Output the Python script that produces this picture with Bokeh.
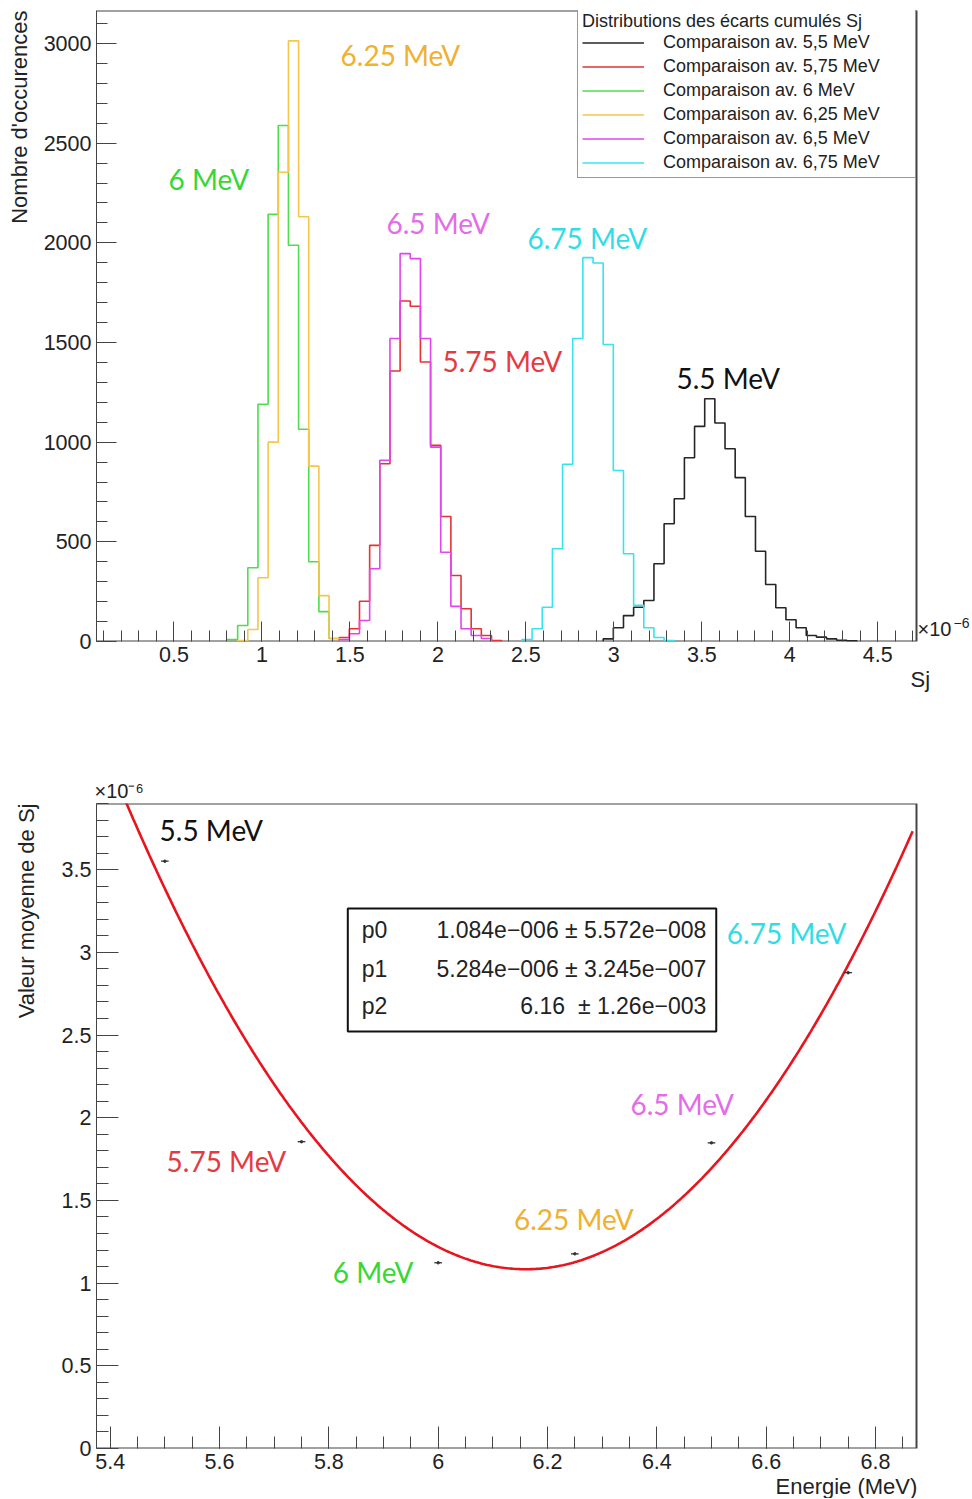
import numpy as np
from bokeh.plotting import figure
from bokeh.layouts import column
from bokeh.models import (FixedTicker, Label, Legend, LegendItem, Title,
                          Range1d, NumeralTickFormatter)
from bokeh.embed import file_html
from bokeh.resources import INLINE

# ---------------- data : histograms of Sj (units of 1e-6) ----------------
BIN_X0 = 0.0544          # lower edge of bin 0
BIN_W = 0.0577           # bin width
# first bin index of each histogram and counts per bin
start_55, counts_55 = 50, [13, 69, 130, 172, 206, 390, 591, 716, 922, 1079, 1218, 1096,
                           967, 822, 627, 453, 286, 169, 109, 69, 30, 22, 13, 6, 3]
start_575, counts_575 = 24, [20, 64, 202, 482, 892, 1357, 1708, 1682, 1402, 984, 627,
                             331, 164, 64, 30, 5]
start_6, counts_6 = 13, [10, 80, 370, 1190, 2143, 2589, 1988, 1065, 400, 150, 15]
start_625, counts_625 = 14, [5, 60, 320, 1000, 2354, 3013, 2131, 880, 230, 15]
start_65, counts_65 = 24, [10, 39, 105, 365, 909, 1520, 1946, 1921, 1520, 975, 448,
                           176, 64, 30, 15]
start_675, counts_675 = 42, [10, 64, 172, 465, 889, 1520, 1926, 1899, 1490, 858, 440,
                             181, 69, 20, 5]
legend_labels = ["Comparaison av. 5,5 MeV", "Comparaison av. 5,75 MeV",
                 "Comparaison av. 6 MeV", "Comparaison av. 6,25 MeV",
                 "Comparaison av. 6,5 MeV", "Comparaison av. 6,75 MeV"]
top_x_ticks = [0.5, 1, 1.5, 2, 2.5, 3, 3.5, 4, 4.5]
top_y_ticks = [0, 500, 1000, 1500, 2000, 2500, 3000]
TOP_XMIN, TOP_XMAX, TOP_YMAX = 0.06, 4.72, 3165.6

# ---------------- data : mean Sj vs energy ----------------
energies = [5.5, 5.75, 6.0, 6.25, 6.5, 6.75]
mean_sj = [3.551, 1.855, 1.123, 1.177, 1.848, 2.877]
fit_p0, fit_p1, fit_p2 = 1.084, 5.284, 6.16      # p0 + p1*(E-p2)^2  (x1e-6)
fit_text = [("p0", "1.084e\u2212006 \u00b1 5.572e\u2212008"),
            ("p1", "5.284e\u2212006 \u00b1 3.245e\u2212007"),
            ("p2", "6.16\u00a0\u00a0\u00b1 1.26e\u2212003")]
bot_x_ticks = [5.4, 5.6, 5.8, 6.0, 6.2, 6.4, 6.6, 6.8]
bot_y_ticks = [0, 0.5, 1, 1.5, 2, 2.5, 3, 3.5]
BOT_XMIN, BOT_XMAX, BOT_YMAX = 5.375, 6.875, 3.9

hist_colors = ["#262626", "#e63232", "#4fdc4f", "#f5c64a", "#e244ee", "#36e4ee"]
text_colors = ["#111111", "#e53a3f", "#35d835", "#f0b030", "#e36ce8", "#30dde6"]

AXFONT = "Liberation Sans"
ANFONT = "Lato"
AXCOL = "#444444"
TXTCOL = "#222222"
W = 972
FRAME_L = 96          # left edge of both frames (page px)
FRAME_R = 916         # right edge of the visible frames (page px)


def style(p, xmaj, xmin_, ymaj, ymin_, maj_len, min_len):
    p.grid.visible = False
    p.background_fill_color = "white"
    p.border_fill_color = "white"
    p.outline_line_color = None
    p.xaxis.ticker = FixedTicker(ticks=xmaj, minor_ticks=xmin_)
    p.yaxis.ticker = FixedTicker(ticks=ymaj, minor_ticks=ymin_)
    for ax in (p.xaxis[0], p.yaxis[0]):
        ax.major_tick_in = maj_len
        ax.major_tick_out = 0
        ax.minor_tick_in = min_len
        ax.minor_tick_out = 0
        ax.axis_line_color = AXCOL
        ax.major_tick_line_color = AXCOL
        ax.minor_tick_line_color = AXCOL
        ax.major_label_text_font = AXFONT
        ax.major_label_text_font_size = "21.5px"
        ax.major_label_text_color = TXTCOL
        ax.major_label_standoff = 5
    p.xaxis.axis_line_color = None      # drawn by hand so it stops at the frame edge


def ytitle(p, text, gap):
    # blank spacer pushes the rotated title away from the tick labels
    p.add_layout(Title(text=" ", text_font_size="1px", standoff=gap), "left")
    p.add_layout(Title(text=text, align="right", text_font=AXFONT, text_font_size="22px",
                       text_font_style="normal", text_color=TXTCOL, standoff=0), "left")


# ======================= top figure =======================
# frames run to the right page edge (room for the x10^-6 note); visible box drawn by hand
sx_top = (FRAME_R - FRAME_L) / (TOP_XMAX - TOP_XMIN)
p1 = figure(width=W, height=720, output_backend="svg", toolbar_location=None,
            x_range=Range1d(TOP_XMIN, TOP_XMIN + (W - FRAME_L) / sx_top),
            y_range=Range1d(0, TOP_YMAX),
            min_border_left=FRAME_L, min_border_right=0, min_border_top=10,
            min_border_bottom=79)
style(p1, top_x_ticks, [round(0.1 * i, 2) for i in range(1, 48)],
      top_y_ticks, list(range(0, 3200, 100)), 20, 11)
p1.xaxis.formatter = NumeralTickFormatter(format="0.[0]")
p1.yaxis.formatter = NumeralTickFormatter(format="0")
p1.line([TOP_XMIN, TOP_XMAX, TOP_XMAX, TOP_XMIN], [0, 0, TOP_YMAX, TOP_YMAX],
        line_color=AXCOL, line_width=2)


def step_xy(start, counts):
    edges = BIN_X0 + BIN_W * np.arange(start, start + len(counts) + 1)
    xs, ys = [edges[0]], [0]
    for i, c in enumerate(counts):
        xs += [edges[i], edges[i + 1]]
        ys += [c, c]
    xs.append(edges[-1])
    ys.append(0)
    return xs, ys


hists = [(start_55, counts_55), (start_575, counts_575), (start_6, counts_6),
         (start_625, counts_625), (start_65, counts_65), (start_675, counts_675)]
renderers = []
for (st, cn), col in zip(hists, hist_colors):
    xs, ys = step_xy(st, cn)
    renderers.append(p1.line(xs, ys, line_color=col, line_width=1.6))

legend = Legend(items=[LegendItem(label=l, renderers=[r]) for l, r in zip(legend_labels, renderers)],
                location=(481, 463), margin=0, padding=4, spacing=3,
                title="Distributions des \u00e9carts cumul\u00e9s Sj",
                title_text_font=AXFONT, title_text_font_size="18px",
                title_text_font_style="normal", title_standoff=0,
                title_text_color=TXTCOL,
                label_text_font=AXFONT, label_text_font_size="18px",
                label_text_color=TXTCOL,
                glyph_width=62, glyph_height=21, label_height=21,
                label_standoff=19, label_width=248,
                border_line_color="#333333", border_line_width=1,
                background_fill_color="white", background_fill_alpha=1)
p1.add_layout(legend)

top_labels = [("5.5 MeV", 3.356, 1324), ("5.75 MeV", 2.026, 1405), ("6 MeV", 0.469, 2318),
              ("6.25 MeV", 1.447, 2940), ("6.5 MeV", 1.708, 2102), ("6.75 MeV", 2.509, 2022)]
for (t, x, y), c in zip(top_labels, text_colors):
    p1.add_layout(Label(x=x, y=y, text=t, text_color=c, text_font=ANFONT,
                        text_font_size="28px", text_baseline="middle", text_align="left"))

p1.add_layout(Label(x=4.726, y=62, text="\u00d710", text_font=AXFONT, text_font_size="20px",
                    text_color=TXTCOL, text_align="left", text_baseline="middle"))
p1.add_layout(Label(x=4.930, y=92, text="\u22126", text_font=AXFONT, text_font_size="14px",
                    text_color=TXTCOL, text_align="left", text_baseline="middle"))
ytitle(p1, "Nombre d'occurences", 6)
p1.add_layout(Title(text="Sj", align="left", offset=814, text_font=AXFONT,
                    text_font_size="22px", text_font_style="normal", text_color=TXTCOL,
                    standoff=0), "below")

# ======================= bottom figure =======================
sx_bot = (FRAME_R - FRAME_L) / (BOT_XMAX - BOT_XMIN)
p2 = figure(width=W, height=778, output_backend="svg", toolbar_location=None,
            x_range=Range1d(BOT_XMIN, BOT_XMIN + (W - FRAME_L) / sx_bot),
            y_range=Range1d(0, BOT_YMAX),
            min_border_left=FRAME_L, min_border_right=0, min_border_top=83,
            min_border_bottom=50)
style(p2, bot_x_ticks, [round(5.4 + 0.05 * i, 3) for i in range(0, 30)],
      bot_y_ticks, [round(0.1 * i, 2) for i in range(0, 40)], 22, 12)
p2.xaxis.formatter = NumeralTickFormatter(format="0.[0]")
p2.yaxis.formatter = NumeralTickFormatter(format="0.[0]")
p2.line([BOT_XMIN, BOT_XMAX, BOT_XMAX, BOT_XMIN], [0, 0, BOT_YMAX, BOT_YMAX],
        line_color=AXCOL, line_width=2)

xf = np.linspace(BOT_XMIN, 6.868, 400)
yf = fit_p0 + fit_p1 * (xf - fit_p2) ** 2
p2.line(xf, yf, line_color="#e8141e", line_width=2.6)

e_arr = np.array(energies)
m_arr = np.array(mean_sj)
p2.segment(x0=e_arr - 0.007, x1=e_arr + 0.007, y0=m_arr, y1=m_arr,
           line_color="#333333", line_width=1.3)
p2.scatter(e_arr, m_arr, size=2.5, color="#333333")

bot_labels = [("5.5 MeV", 5.4904, 3.737), ("5.75 MeV", 5.5032, 1.741), ("6 MeV", 5.8072, 1.070),
              ("6.25 MeV", 6.1387, 1.385), ("6.5 MeV", 6.3517, 2.086), ("6.75 MeV", 6.528, 3.114)]
for (t, x, y), c in zip(bot_labels, text_colors):
    p2.add_layout(Label(x=x, y=y, text=t, text_color=c, text_font=ANFONT,
                        text_font_size="28px", text_baseline="middle", text_align="left"))

# fit-parameter box
p2.quad(left=[5.8347], right=[6.5087], bottom=[2.5215], top=[3.2652],
        fill_color="white", line_color="#111111", line_width=2)
for (name, val), yy in zip(fit_text, [3.138, 2.902, 2.673]):
    p2.add_layout(Label(x=5.8603, y=yy, text=name, text_font=AXFONT, text_font_size="23px",
                        text_color=TXTCOL, text_align="left", text_baseline="middle"))
    p2.add_layout(Label(x=6.4904, y=yy, text=val, text_font=AXFONT, text_font_size="23px",
                        text_color=TXTCOL, text_align="right", text_baseline="middle"))

ytitle(p2, "Valeur moyenne de Sj", 17)
p2.add_layout(Title(text="Energie (MeV)", align="left", offset=679, text_font=AXFONT,
                    text_font_size="22px", text_font_style="normal", text_color=TXTCOL,
                    standoff=0), "below")
p2.add_layout(Title(text="\u00d710\u207b\u2076", align="left", offset=-2, text_font=AXFONT,
                    text_font_size="20px", text_font_style="normal", text_color=TXTCOL,
                    standoff=3), "above")

layout = column(p1, p2, spacing=0)
open("out.html", "w").write(file_html(layout, INLINE))
